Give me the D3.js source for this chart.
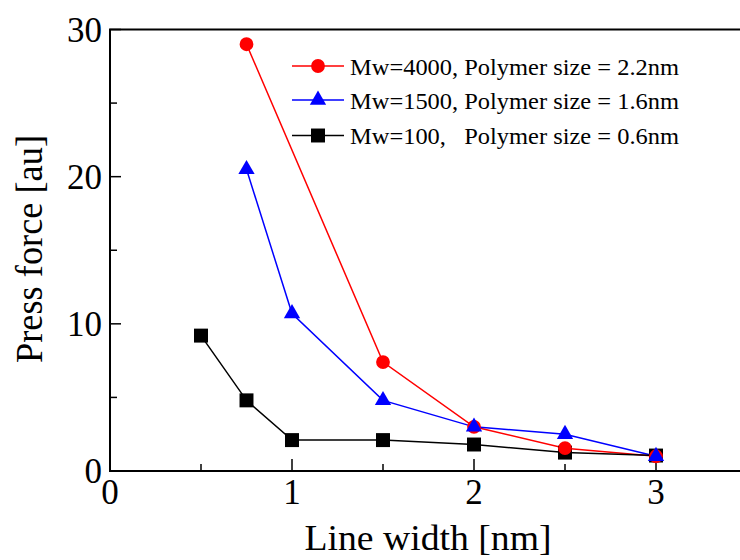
<!DOCTYPE html>
<html><head><meta charset="utf-8">
<script src="https://cdn.jsdelivr.net/npm/d3@7"></script>
<style>body{margin:0;background:#fff}svg{display:block}</style>
</head><body>
<script>
const lineWidths = [0.5, 0.75, 1, 1.5, 2, 2.5, 3];
const seriesNames = ["Mw=4000, Polymer size = 2.2nm", "Mw=1500, Polymer size = 1.6nm", "Mw=100,   Polymer size = 0.6nm"];
const seriesColors = ["#ff0000", "#0000ff", "#000000"];
const seriesSymbols = ["circle", "triangle", "square"];
const mw4000 = [null, 29.0, null, 7.4, 3.0, 1.55, 1.0];
const mw1500 = [null, 20.5, 10.7, 4.8, 3.0, 2.5, 1.0];
const mw100  = [9.2, 4.8, 2.1, 2.1, 1.8, 1.25, 1.05];
const seriesValues = [mw4000, mw1500, mw100];
const xTicks = [0, 1, 2, 3];
const xMinorTicks = [0.5, 1.5, 2.5];
const yTicks = [0, 10, 20, 30];
const yMinorTicks = [5, 15, 25];
const xTitle = "Line width [nm]";
const yTitle = "Press force [au]";

const FONT = "'Liberation Serif','Times New Roman',serif";
const W = 740, H = 560;
const svg = d3.select("body").append("svg").attr("width", W).attr("height", H)
  .attr("font-family", FONT);
const x = d3.scaleLinear().domain([0, 3.5]).range([110, 747]);
const y = d3.scaleLinear().domain([0, 30]).range([471, 29.5]);

// frame
svg.append("rect").attr("x", x(0)).attr("y", y(30)).attr("width", x(3.5) - x(0)).attr("height", y(0) - y(30))
  .attr("fill", "none").attr("stroke", "#000").attr("stroke-width", 2);

// ticks (inward)
const g = svg.append("g").attr("stroke", "#000").attr("stroke-width", 1.5);
xTicks.filter(d => d > 0).forEach(d => g.append("line").attr("x1", x(d)).attr("x2", x(d)).attr("y1", y(0)).attr("y2", y(0) - 12));
xMinorTicks.forEach(d => g.append("line").attr("x1", x(d)).attr("x2", x(d)).attr("y1", y(0)).attr("y2", y(0) - 7));
yTicks.filter(d => d > 0).forEach(d => g.append("line").attr("x1", x(0)).attr("x2", x(0) + 11).attr("y1", y(d)).attr("y2", y(d)));
yMinorTicks.forEach(d => g.append("line").attr("x1", x(0)).attr("x2", x(0) + 7).attr("y1", y(d)).attr("y2", y(d)));

// tick labels
svg.selectAll(".xt").data(xTicks).enter().append("text").attr("font-family", FONT)
  .attr("x", d => x(d)).attr("y", 504).attr("text-anchor", "middle").attr("font-size", 35).text(d => d);
svg.selectAll(".yt").data(yTicks).enter().append("text").attr("font-family", FONT)
  .attr("x", 102).attr("y", d => y(d) + 12).attr("text-anchor", "end").attr("font-size", 35).text(d => d);

// titles
svg.append("text").attr("font-family", FONT).attr("x", 428).attr("y", 550).attr("text-anchor", "middle")
  .attr("font-size", 35).attr("textLength", 247).attr("lengthAdjust", "spacingAndGlyphs").text(xTitle);
svg.append("text").attr("font-family", FONT).attr("transform", "translate(42,249) rotate(-90)").attr("text-anchor", "middle")
  .attr("font-size", 38).attr("textLength", 228).attr("lengthAdjust", "spacingAndGlyphs").text(yTitle);

// series
const sym = {circle: d3.symbolCircle, triangle: d3.symbolTriangle, square: d3.symbolSquare};
const sizes = {circle: 150, triangle: 115, square: 195};
const line = d3.line().x(d => x(d.x)).y(d => y(d.v));
seriesValues.forEach((vals, i) => {
  const pts = lineWidths.map((lw, j) => ({x: lw, v: vals[j]})).filter(d => d.v != null);
  svg.append("path").datum(pts).attr("d", line).attr("fill", "none").attr("stroke", seriesColors[i]).attr("stroke-width", 1.5);
});
[2, 0, 1].forEach(i => {
  const pts = lineWidths.map((lw, j) => ({x: lw, v: seriesValues[i][j]})).filter(d => d.v != null);
  svg.selectAll(".m" + i).data(pts).enter().append("path")
    .attr("d", d3.symbol(sym[seriesSymbols[i]], sizes[seriesSymbols[i]]))
    .attr("transform", d => `translate(${x(d.x)},${y(d.v)})`).attr("fill", seriesColors[i]);
});

// legend
const legY = [66, 100, 135.5];
seriesNames.forEach((name, i) => {
  svg.append("line").attr("x1", 292).attr("x2", 344).attr("y1", legY[i]).attr("y2", legY[i])
    .attr("stroke", seriesColors[i]).attr("stroke-width", 1.5);
  svg.append("path").attr("d", d3.symbol(sym[seriesSymbols[i]], sizes[seriesSymbols[i]]))
    .attr("transform", `translate(318,${legY[i]})`).attr("fill", seriesColors[i]);
  svg.append("text").attr("font-family", FONT).attr("x", 350).attr("y", legY[i] + 8.5).attr("font-size", 22.5)
    .attr("textLength", 329).attr("lengthAdjust", "spacingAndGlyphs")
    .attr("xml:space", "preserve").style("white-space", "pre").text(name);
});
</script>
</body></html>
